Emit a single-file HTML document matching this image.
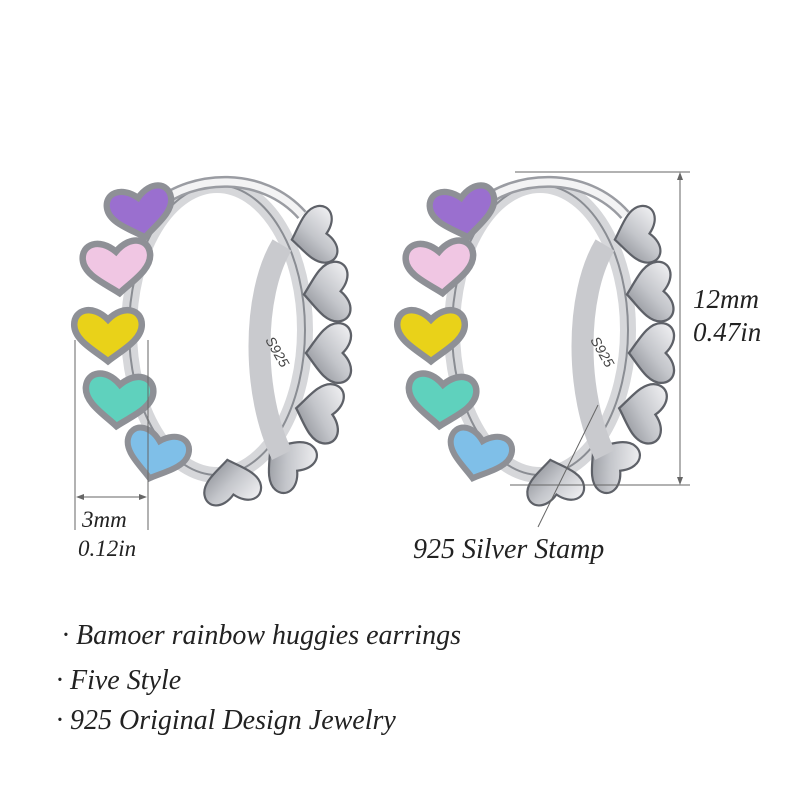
<!DOCTYPE html>
<html><head><meta charset="utf-8"><style>
html,body{margin:0;padding:0;background:#fff;}
body{width:800px;height:800px;overflow:hidden;position:relative;font-family:"Liberation Serif",serif;font-style:italic;color:#222;}
.t{position:absolute;white-space:nowrap;line-height:1;}
</style></head><body>
<svg width="800" height="800" style="position:absolute;left:0;top:0">
<defs>
<path id="h" d="M0,14 C-10,6 -26,-2 -26,-14 C-26,-26 -12,-30 0,-18 C12,-30 26,-26 26,-14 C26,-2 10,6 0,14 Z"/>
<linearGradient id="sil" x1="0" x2="1" y1="0" y2="1"><stop offset="0" stop-color="#f4f4f6"/><stop offset="0.5" stop-color="#c3c5ca"/><stop offset="1" stop-color="#7d8087"/></linearGradient>
<g id="ear">
  <ellipse cx="115" cy="155" rx="88" ry="145" fill="none" stroke="#d6d7da" stroke-width="16"/>
  <ellipse cx="115" cy="155" rx="88" ry="145" fill="none" stroke="#8a8d93" stroke-width="2"/>
  <g fill="url(#sil)" stroke="#5e6168" stroke-width="2">
    <use href="#h" transform="translate(205,62) rotate(80) scale(1.1)"/>
    <use href="#h" transform="translate(218,118) rotate(85) scale(1.15)"/>
    <use href="#h" transform="translate(220,178) rotate(90) scale(1.15)"/>
    <use href="#h" transform="translate(210,236) rotate(100) scale(1.15)"/>
    <use href="#h" transform="translate(180,283) rotate(130) scale(1.1)"/>
    <use href="#h" transform="translate(128,300) rotate(170) scale(1.1)"/>
  </g>
  <path d="M180,70 C150,120 150,220 180,280" fill="none" stroke="#c9cace" stroke-width="22"/>
  <path d="M55,30 C90,0 160,-5 200,40" fill="none" stroke="#9a9ca2" stroke-width="12"/>
  <path d="M55,30 C90,0 160,-5 200,40" fill="none" stroke="#f3f3f4" stroke-width="7"/>
  <g stroke="#8e9096" stroke-width="5">
    <use href="#h" fill="#9a6fcf" transform="translate(40,45) rotate(-10) scale(1.25)"/>
    <use href="#h" fill="#f0c6e3" transform="translate(16,100) rotate(-5) scale(1.3)"/>
    <use href="#h" fill="#e9d219" transform="translate(6,168) scale(1.3)"/>
    <use href="#h" fill="#5fd1bd" transform="translate(16,233) rotate(5) scale(1.3)"/>
    <use href="#h" fill="#7fbfe8" transform="translate(52,287) rotate(15) scale(1.2)"/>
  </g>
</g>
</defs>
<use href="#ear" transform="translate(102,175)"/>
<use href="#ear" transform="translate(425,175)"/>
<text x="265" y="340" font-family="Liberation Sans" font-size="14" fill="#444" transform="rotate(60 265 340)">S925</text>
<text x="590" y="340" font-family="Liberation Sans" font-size="14" fill="#444" transform="rotate(60 590 340)">S925</text>
<g stroke="#666" stroke-width="1" fill="none">
  <line x1="515" y1="172" x2="690" y2="172"/>
  <line x1="510" y1="485" x2="690" y2="485"/>
  <line x1="680" y1="175" x2="680" y2="482"/>
  <line x1="75" y1="340" x2="75" y2="530"/>
  <line x1="148" y1="340" x2="148" y2="530"/>
  <line x1="78" y1="497" x2="145" y2="497"/>
  <line x1="538" y1="527" x2="598" y2="405"/>
</g>
<g fill="#666">
  <path d="M680,172 l-3,8 h6z"/><path d="M680,485 l-3,-8 h6z"/>
  <path d="M76,497 l8,-3 v6z"/><path d="M147,497 l-8,-3 v6z"/>
</g>
</svg>
<div class="t" style="left:693px;top:286px;font-size:27px">12mm</div>
<div class="t" style="left:693px;top:319px;font-size:27px">0.47in</div>
<div class="t" style="left:82px;top:508px;font-size:23px">3mm</div>
<div class="t" style="left:78px;top:537px;font-size:23px">0.12in</div>
<div class="t" style="left:413px;top:536px;font-size:28px">925 Silver Stamp</div>
<div class="t" style="left:62px;top:622px;font-size:28px">· Bamoer rainbow huggies earrings</div>
<div class="t" style="left:56px;top:667px;font-size:28px">· Five Style</div>
<div class="t" style="left:56px;top:707px;font-size:28px">· 925 Original Design Jewelry</div>
</body></html>
